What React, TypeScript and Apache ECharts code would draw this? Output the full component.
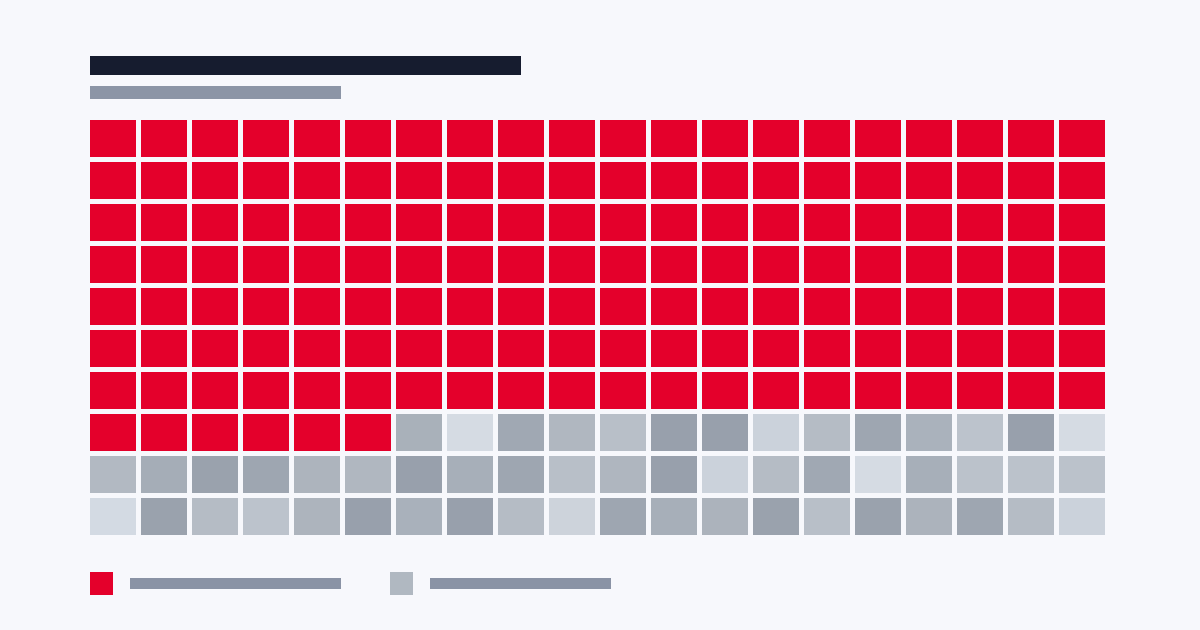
import React, { useEffect, useRef } from "react";
import * as echarts from "echarts";

// ---- data ----
const seriesNames = ["Share A", "Share B"];
const seriesCounts = [146, 54];
const seriesColors = ["#e4002b", "#b0b8c1"];
const gridColumns = 20;
const gridRows = 10;
const columnLabels = Array.from({ length: 20 }, (_, i) => String(i + 1));
const rowLabels = Array.from({ length: 10 }, (_, i) => String(i + 1));
// per-cell shades of the second (gray) group, in reading order
const grayShades = [
  "#a9b1ba", "#d5dbe3", "#a0a8b3", "#b0b7c0", "#b8bfc8", "#98a0ac", "#98a0ac",
  "#cbd2db", "#b5bcc5", "#9ea6b1", "#aab2bc", "#bcc3cc", "#98a0ac", "#d5dbe3",
  "#b2b9c2", "#a5adb7", "#9aa2ad", "#9ea6b1", "#adb4bd", "#b0b7c0", "#98a0ac",
  "#a7afb9", "#9ea6b1", "#b8bfc8", "#afb6bf", "#98a0ac", "#cbd2db", "#b5bcc5",
  "#a0a8b3", "#d5dbe3", "#a7afb9", "#bbc2cb", "#bbc2cb", "#bbc2cb",
  "#d3dae3", "#9aa2ad", "#b5bcc5", "#bcc3cc", "#adb4bd", "#98a0ac", "#a9b1bb",
  "#98a0ac", "#b5bcc5", "#cdd3db", "#9ea6b1", "#a7afb9", "#acb3bc", "#9aa2ad",
  "#b8bfc8", "#9aa2ad", "#acb3bc", "#9ea6b1", "#b5bcc5", "#cbd2db",
];

export default function App() {
  const ref = useRef<HTMLDivElement>(null);
  useEffect(() => {
    document.body.style.margin = "0";
    if (!ref.current) return;
    const chart = echarts.init(ref.current, null, { renderer: "svg" });

    const cells: any[] = [];
    let idx = 0;
    seriesCounts.forEach((count, s) => {
      for (let k = 0; k < count; k++) {
        const col = idx % gridColumns;
        const row = Math.floor(idx / gridColumns);
        const color = s === 0 ? seriesColors[0] : grayShades[k] || seriesColors[1];
        cells.push({ value: [col, row], name: seriesNames[s], itemStyle: { color } });
        idx++;
      }
    });

    chart.setOption({
      animation: false,
      backgroundColor: "#f7f8fc",
      grid: { left: 90, top: 120, width: 1020, height: 420 },
      xAxis: {
        type: "category",
        data: columnLabels,
        show: false,
      },
      yAxis: {
        type: "category",
        data: rowLabels,
        inverse: true,
        show: false,
      },
      graphic: [
        { type: "rect", shape: { x: 90, y: 56, width: 431, height: 19 }, style: { fill: "#161c2f" } },
        { type: "rect", shape: { x: 90, y: 86, width: 251, height: 13 }, style: { fill: "#8c95a6" } },
        { type: "rect", shape: { x: 90, y: 572, width: 23, height: 23 }, style: { fill: seriesColors[0] } },
        { type: "rect", shape: { x: 130, y: 578, width: 211, height: 11 }, style: { fill: "#8a93a5" } },
        { type: "rect", shape: { x: 390, y: 572, width: 23, height: 23 }, style: { fill: seriesColors[1] } },
        { type: "rect", shape: { x: 430, y: 578, width: 181, height: 11 }, style: { fill: "#8a93a5" } },
      ],
      series: [
        {
          type: "custom",
          data: cells,
          renderItem: (params: any, api: any) => {
            const c = api.coord([api.value(0), api.value(1)]);
            const sz = api.size([1, 1]);
            const w = sz[0] - 5;
            const h = sz[1] - 5;
            return {
              type: "rect",
              shape: { x: c[0] - sz[0] / 2, y: c[1] - sz[1] / 2, width: w, height: h },
              style: { fill: api.visual("color") },
            };
          },
        },
      ],
    });
    return () => chart.dispose();
  }, []);
  return <div ref={ref} style={{ width: 1200, height: 630 }} />;
}
